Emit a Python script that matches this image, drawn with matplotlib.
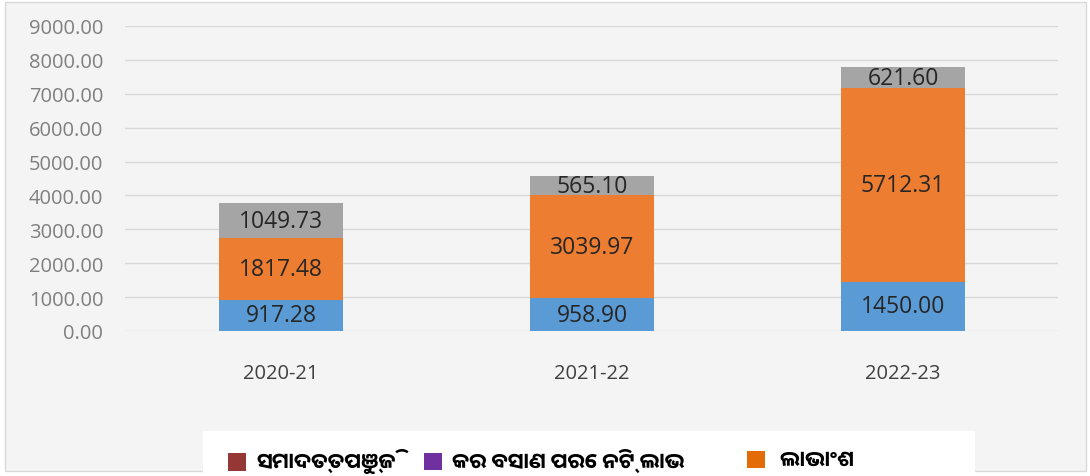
import matplotlib.pyplot as plt
import numpy as np
from matplotlib.patches import Patch, Rectangle

# data
years = ["2020-21", "2021-22", "2022-23"]
blue_vals = [917.28, 958.90, 1450.00]
orange_vals = [1817.48, 3039.97, 5712.31]
gray_vals = [1049.73, 565.10, 621.60]
legend_names = ["ସମାଦତ୍ତପୁଞ୍ଜି", "କର ବସାଣ ପରେ ନିଟ୍ ଲାଭ", " ଲାଭାଂଶ"]
legend_colors = ["#953735", "#7030A0", "#E36C09"]

plt.rcParams["font.family"] = ["Open Sans", "DejaVu Sans"]

fig = plt.figure(figsize=(10.9, 4.77), dpi=100, facecolor="white")
# chart background with thin border
fig.patches.append(Rectangle((5 / 1090, 5 / 477), 1081 / 1090, 469 / 477,
                             transform=fig.transFigure, facecolor="#f4f4f4",
                             edgecolor="#d9d9d9", linewidth=1, zorder=-10))
# white legend strip
fig.patches.append(Rectangle((203 / 1090, -0.02), 772 / 1090, 0.02 + 45 / 477,
                             transform=fig.transFigure, facecolor="white",
                             edgecolor="none", zorder=-5))

ax = fig.add_axes([0.1151, 0.304, 0.856, 0.6394])
ax.set_facecolor("none")

x = np.arange(len(years))
w = 0.4
b1 = ax.bar(x, blue_vals, w, color="#5B9BD5", zorder=2)
bottom2 = np.array(blue_vals)
b2 = ax.bar(x, orange_vals, w, bottom=bottom2, color="#ED7D31", zorder=2)
bottom3 = bottom2 + np.array(orange_vals)
b3 = ax.bar(x, gray_vals, w, bottom=bottom3, color="#A5A5A5", zorder=2)

for bars in (b1, b2, b3):
    ax.bar_label(bars, labels=["%.2f" % b.get_height() for b in bars],
                 label_type="center", fontsize=16.5, color="#262626")

ax.set_ylim(0, 9000)
ax.set_xlim(-0.5, 2.5)
ax.set_yticks(np.arange(0, 9001, 1000))
ax.set_yticklabels(["%.2f" % v for v in np.arange(0, 9001, 1000)],
                   fontsize=14.5, color="#7f7f7f")
ax.set_xticks(x)
ax.set_xticklabels(years, fontsize=14.5, color="#404040")
ax.tick_params(axis="both", length=0)
ax.tick_params(axis="y", pad=16)
ax.tick_params(axis="x", pad=23)
ax.yaxis.grid(True, color="#d9d9d9", linewidth=1, zorder=0)
ax.set_axisbelow(True)
for s in ax.spines.values():
    s.set_visible(False)

# legend entries placed one by one like the original
legend_x = [228, 424, 747]
for name, col, lx in zip(legend_names, legend_colors, legend_x):
    fig.legend([Patch(facecolor=col)], [name], loc="center left",
               bbox_to_anchor=(lx / 1090, 15 / 477), frameon=False,
               prop={"family": ["Noto Sans Oriya UI", "DejaVu Sans"],
                     "weight": "bold", "size": 15.5},
               handlelength=0.85, handleheight=0.85,
               handletextpad=0.45, borderpad=0, borderaxespad=0)

fig.savefig("out.png", dpi=100, facecolor=fig.get_facecolor())
